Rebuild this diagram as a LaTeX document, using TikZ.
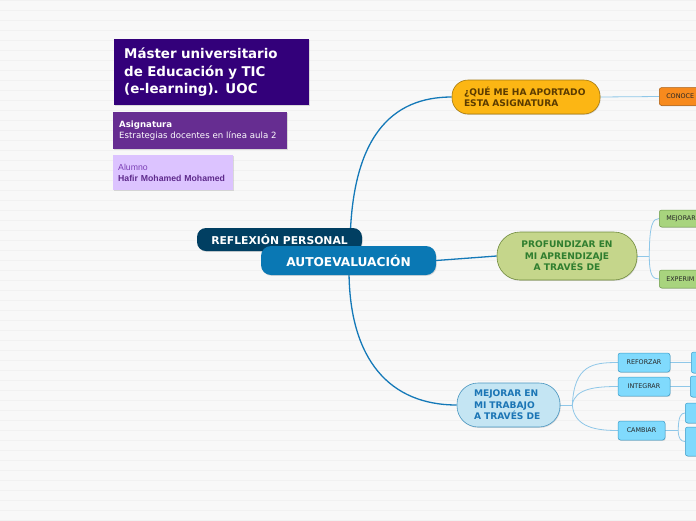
\documentclass[tikz,border=0pt]{standalone}
\usepackage{fontspec}
\setmainfont{DejaVu Sans}
\newfontfamily\arialfont{Liberation Sans}
\usetikzlibrary{shadows,backgrounds}

\definecolor{bgcol}{HTML}{F8F8F8}
\definecolor{stripecol}{HTML}{F1F1F1}
\definecolor{titlepurple}{HTML}{33007A}
\definecolor{asigpurple}{HTML}{662D91}
\definecolor{alumnolav}{HTML}{DCC3FF}
\definecolor{alumnotext}{HTML}{7B3FB5}
\definecolor{alumnobold}{HTML}{5E2A8C}
\definecolor{reflexnavy}{HTML}{013F62}
\definecolor{autoblue}{HTML}{0A78B4}
\definecolor{queyellow}{HTML}{FCB614}
\definecolor{queborder}{HTML}{A57A10}
\definecolor{quetext}{HTML}{5B3B00}
\definecolor{conoceorange}{HTML}{F78A1D}
\definecolor{conoceborder}{HTML}{A95C10}
\definecolor{profgreen}{HTML}{C5D68B}
\definecolor{profborder}{HTML}{6F8A3C}
\definecolor{proftext}{HTML}{2F7E2F}
\definecolor{leafgreen}{HTML}{A8D47E}
\definecolor{leafgreenborder}{HTML}{6C9A4A}
\definecolor{mejblue}{HTML}{C4E5F3}
\definecolor{mejborder}{HTML}{4A96C0}
\definecolor{mejtext}{HTML}{1B75B5}
\definecolor{leafcyan}{HTML}{80DAFD}
\definecolor{leafcyanborder}{HTML}{3D9CC8}
\definecolor{linkblue}{HTML}{1479B8}
\definecolor{linklight}{HTML}{8FC7E8}

\tikzset{
  softshadow/.style={drop shadow={shadow xshift=0.7pt,shadow yshift=-0.9pt,opacity=0.25}},
  infobox/.style={anchor=north west, align=left, inner ysep=0pt, softshadow},
  pill/.style={draw, line width=0.6pt, font=\bfseries\fontsize{9.1}{11.5}\selectfont, inner ysep=0pt, softshadow},
  leafbox/.style={draw, line width=0.5pt, rounded corners=2.5pt, inner xsep=7pt, inner ysep=0pt,
    minimum height=19pt, font=\fontsize{6.4}{7}\selectfont, text=black!85, softshadow},
  mainlink/.style={draw=linkblue, line width=1.3pt},
  sublink/.style={draw=linklight, line width=0.8pt},
}

\begin{document}
\begin{tikzpicture}[x=1pt,y=-1pt]
  \useasboundingbox (0,0) rectangle (696,520);

  % header boxes
  \node[infobox, fill=titlepurple, text=white, minimum width=195pt, minimum height=66pt,
    text width=175pt, inner xsep=10pt, font=\bfseries\fontsize{13.4}{17.5}\selectfont]
    (master) at (114,39) {Máster universitario\\de Educación y TIC\\(e-learning). UOC};
  \node[infobox, fill=asigpurple, text=white, minimum width=174pt, minimum height=37pt,
    text width=162pt, inner xsep=6pt, font=\fontsize{8.6}{11}\selectfont]
    (asig) at (113,112) {{\bfseries Asignatura}\\Estrategias docentes en línea aula 2};
  \node[infobox, fill=alumnolav, text=alumnotext, minimum width=120pt, minimum height=35pt,
    text width=110pt, inner xsep=5pt, font=\arialfont\fontsize{8.7}{11}\selectfont]
    (alumno) at (113,155) {Alumno\\{\bfseries\color{alumnobold}Hafir Mohamed Mohamed}};

  % central topics
  \node[fill=reflexnavy, text=white, rounded corners=9pt, minimum width=165pt, minimum height=23pt,
    font=\bfseries\fontsize{10.8}{12}\selectfont, softshadow] (reflex) at (279.5,239.5) {REFLEXIÓN PERSONAL};
  \node[fill=autoblue, text=white, rounded corners=10pt, minimum width=175pt, minimum height=29pt,
    font=\bfseries\fontsize{12.2}{13}\selectfont, softshadow] (auto) at (348.5,260.5) {AUTOEVALUACIÓN};

  % main branches
  \node[pill, fill=queyellow, draw=queborder, text=quetext, rounded corners=16pt,
    minimum width=148pt, minimum height=34pt, text width=124pt, inner xsep=12pt, align=left,
    font=\bfseries\fontsize{9.1}{11}\selectfont]
    (que) at (526,97) {¿QUÉ ME HA APORTADO\\ESTA ASIGNATURA};
  \node[pill, fill=profgreen, draw=profborder, text=proftext, rounded corners=23pt,
    minimum width=140pt, minimum height=48pt, align=center]
    (prof) at (567,256) {PROFUNDIZAR EN\\MI APRENDIZAJE\\A TRAVÉS DE};
  \node[pill, fill=mejblue, draw=mejborder, text=mejtext, rounded corners=21pt,
    minimum width=103pt, minimum height=44pt, text width=69pt, inner xsep=17pt, align=left]
    (mejtrab) at (508.5,405) {MEJORAR EN\\MI TRABAJO\\A TRAVÉS DE};

  % leaves
  \node[leafbox, fill=conoceorange, draw=conoceborder, anchor=west, minimum height=18pt,
    text width=60pt, align=left] (conoce) at (659,96.5) {CONOCE};
  \node[leafbox, fill=leafgreen, draw=leafgreenborder, anchor=west, minimum height=17pt,
    text width=60pt, align=left] (mejorar) at (659,218.5) {MEJORAR};
  \node[leafbox, fill=leafgreen, draw=leafgreenborder, anchor=west, minimum height=18pt,
    text width=60pt, align=left] (experim) at (659,279) {EXPERIM};
  \node[leafbox, fill=leafcyan, draw=leafcyanborder, minimum width=52pt] (reforzar) at (644,362.5) {REFORZAR};
  \node[leafbox, fill=leafcyan, draw=leafcyanborder, minimum width=52pt] (integrar) at (644,386.5) {INTEGRAR};
  \node[leafbox, fill=leafcyan, draw=leafcyanborder, minimum width=47pt] (cambiar) at (641.5,430.5) {CAMBIAR};
  \node[leafbox, fill=leafcyan, draw=leafcyanborder, anchor=west, minimum width=30pt, minimum height=21pt] (reforzarb) at (691,362.5) {};
  \node[leafbox, fill=leafcyan, draw=leafcyanborder, anchor=west, minimum width=30pt, minimum height=21pt] (integrarb) at (690,386.5) {};
  \node[leafbox, fill=leafcyan, draw=leafcyanborder, anchor=west, minimum width=30pt, minimum height=20pt] (cambiara) at (685,413) {};
  \node[leafbox, fill=leafcyan, draw=leafcyanborder, anchor=west, minimum width=30pt, minimum height=29pt] (cambiarb) at (685,441.5) {};

  \coordinate (profj) at ([xshift=12pt]prof.east);
  \coordinate (mejj) at ([xshift=12pt]mejtrab.east);
  \coordinate (cambj) at ([xshift=13pt]cambiar.east);

  \begin{scope}[on background layer]
    \fill[bgcol] (0,0) rectangle (696,520);
    \foreach \k in {0,...,52} {\draw[stripecol, line width=0.6pt] (0,10*\k) -- (696,10*\k);}
    % connectors
    \draw[mainlink] (350,250) .. controls (350,136) and (392,97) .. (que.west);
    \draw[mainlink] (auto.east) -- (prof.west);
    \draw[mainlink] (349,270) .. controls (349,360) and (390,405) .. (mejtrab.west);
    \draw[sublink] (que.east) -- (conoce.west);
    \draw[sublink] (prof.east) -- (profj);
    \draw[sublink] (profj) .. controls +(0,-32) and +(-6,0) .. (mejorar.west);
    \draw[sublink] (profj) .. controls +(0,20) and +(-6,0) .. (experim.west);
    \draw[sublink] (mejtrab.east) -- (mejj);
    \draw[sublink] (mejj) .. controls +(2,-40) and +(-25,0) .. (reforzar.west);
    \draw[sublink] (mejj) .. controls +(2,-17) and +(-20,0) .. (integrar.west);
    \draw[sublink] (mejj) .. controls +(2,23) and +(-20,0) .. (cambiar.west);
    \draw[sublink] (reforzar.east) -- (reforzarb.west);
    \draw[sublink] (integrar.east) -- (integrarb.west);
    \draw[sublink] (cambiar.east) -- (cambj);
    \draw[sublink] (cambj) .. controls +(0,-14) and +(-4,0) .. (cambiara.west);
    \draw[sublink] (cambj) .. controls +(0,8) and +(-4,0) .. (cambiarb.west);
  \end{scope}
\end{tikzpicture}
\end{document}
